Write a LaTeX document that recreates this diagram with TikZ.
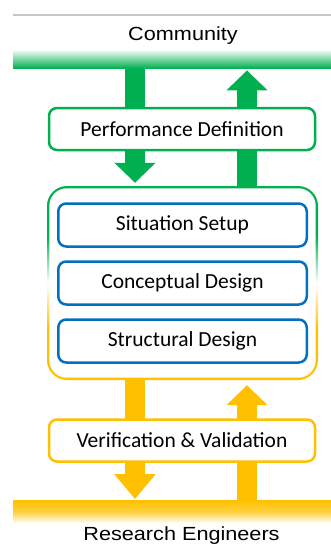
\documentclass[tikz,border=0pt]{standalone}
\usepackage{fontspec}
\setmainfont{Carlito}
\newfontfamily\arialf[FakeStretch=1.14]{Liberation Sans}
\usetikzlibrary{arrows.meta,backgrounds,calc}
\definecolor{gcol}{RGB}{0,176,80}
\definecolor{ycol}{RGB}{255,192,0}
\definecolor{bcol}{RGB}{0,112,192}
\pgfdeclareverticalshading{bigborder}{100bp}{color(0bp)=(ycol); color(38bp)=(ycol); color(50bp)=(white); color(62bp)=(gcol); color(100bp)=(gcol)}
\begin{document}
\begin{tikzpicture}[x=1pt,y=-1pt,
  txt/.style={font=\fontsize{21.5pt}{24pt}\selectfont, text=black},
  headtxt/.style={font=\arialf\fontsize{19pt}{22pt}\selectfont, text=black},
  gbox/.style={draw=gcol, line width=2.5pt, fill=white, rounded corners=8pt, minimum width=266pt, minimum height=42pt, inner sep=0pt, txt},
  ybox/.style={gbox, draw=ycol},
  bbox/.style={gbox, draw=bcol, minimum width=248.5pt, minimum height=43pt},
  blockarrow/.style={line width=20pt, -{Triangle[width=40pt,length=20pt]}},
  longhead/.style={line width=20pt, -{Triangle[width=40pt,length=25pt]}},
  barstyle/.style={minimum width=318pt, inner sep=0pt, anchor=north west}
  ]
\useasboundingbox (0,0) rectangle (331,550);
\draw[black!22, line width=1.5pt] (13,15) -- (331,15);
\node[headtxt, anchor=base] (community) at (183,40) {Community};
\node[barstyle, minimum height=19pt, top color=white, bottom color=gcol] (gbar) at (13,49) {};
\node[barstyle, minimum height=23pt, top color=ycol, bottom color=white, middle color=ycol!75] (ybar) at (13,500) {};
\node[headtxt, anchor=base] (research) at (181.5,540) {Research Engineers};

\node[gbox] (pd) at (182,129) {Performance Definition};
\node[shade, shading=bigborder, rounded corners=20pt, minimum width=271pt, minimum height=194pt, inner sep=0pt] (big) at (182.5,283) {};
\fill[white, rounded corners=17.5pt] ([shift={(2.5pt,-2.5pt)}]big.north west) rectangle ([shift={(-2.5pt,2.5pt)}]big.south east);
\node[bbox] (ss) at (182.5,225) {Situation Setup};
\node[bbox] (cd) at (182.5,283) {Conceptual Design};
\node[bbox] (sd) at (182.5,341) {Structural Design};
\node[ybox] (vv) at (182,440.5) {Verification \& Validation};

\coordinate (lx) at (135,0);
\coordinate (rx) at (247,0);
\begin{pgfonlayer}{background}
\draw[blockarrow, gcol] (gbar.south -| lx) -- ($(big.north -| lx)+(0,-3)$);
\draw[blockarrow, gcol] (big.north -| rx) -- ($(gbar.south -| rx)+(0,2)$);
\draw[longhead, ycol] (big.south -| lx) -- ($(ybar.north -| lx)+(0,-1)$);
\draw[blockarrow, ycol] (ybar.north -| rx) -- ($(big.south -| rx)+(0,5)$);
\end{pgfonlayer}
\end{tikzpicture}
\end{document}
